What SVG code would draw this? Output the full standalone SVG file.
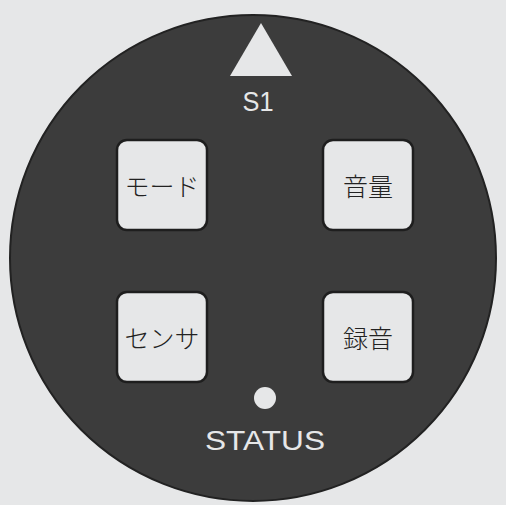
<svg xmlns="http://www.w3.org/2000/svg" width="506" height="505" viewBox="0 0 506 505">
<style>
.btn{fill:#e6e7e8;stroke:#1e1e1e;stroke-width:2.5}
.bt{font-family:"Noto Sans CJK JP","Noto Sans",sans-serif;font-size:25px;font-weight:300;fill:#222;text-anchor:middle;dominant-baseline:central}
.lt{font-family:"Liberation Sans","DejaVu Sans",sans-serif;fill:#e6e7e8;text-anchor:middle}
</style>
<rect width="506" height="505" fill="#e6e7e8"/>
<g id="body"><circle cx="253" cy="258" r="243" fill="#3c3c3c" stroke="#222" stroke-width="2"/></g>
<g id="s1"><polygon points="261,23 230,76 292,76" fill="#e6e7e8"/><text class="lt" x="258" y="111" font-size="27" textLength="31" lengthAdjust="spacingAndGlyphs">S1</text></g>
<g id="mode"><rect class="btn" x="117" y="140" width="90" height="90" rx="10"/><text class="bt" x="162" y="185">モード</text></g>
<g id="volume"><rect class="btn" x="323" y="140" width="90" height="90" rx="10"/><text class="bt" x="368" y="185">音量</text></g>
<g id="sensor"><rect class="btn" x="117" y="292" width="90" height="90" rx="10"/><text class="bt" x="162" y="337">センサ</text></g>
<g id="record"><rect class="btn" x="323" y="292" width="90" height="90" rx="10"/><text class="bt" x="368" y="337">録音</text></g>
<g id="status"><circle cx="265" cy="398" r="11" fill="#e6e7e8"/><text class="lt" x="265" y="450" font-size="27" textLength="120" lengthAdjust="spacingAndGlyphs">STATUS</text></g>
</svg>
